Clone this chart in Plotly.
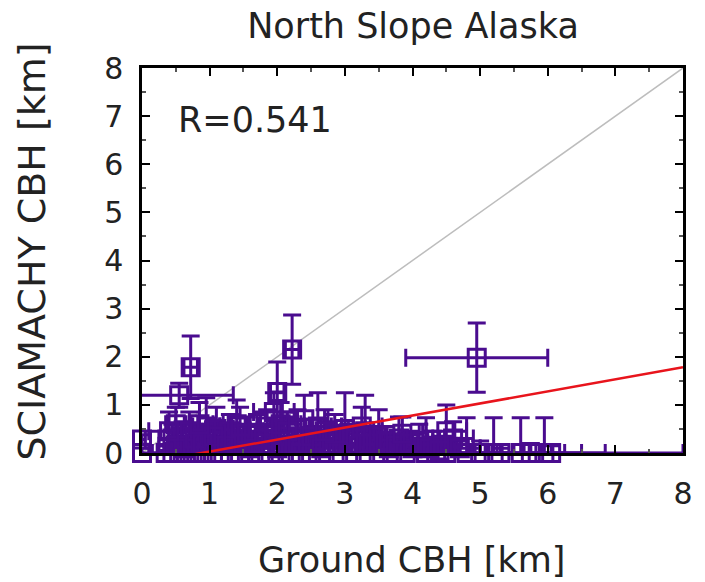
import plotly.graph_objects as go

# ---- data ----
ground_cbh = [0.0, 0.0, 0.55, 0.72, 2.22, 2.0, 4.95, 4.5,
              0.5, 0.6, 0.95, 1.1, 1.3, 1.5, 1.7, 1.85, 2.1, 2.3, 2.6, 2.75,
              3.0, 3.3, 3.5, 3.8, 4.1, 4.3, 1.0, 0.8, 1.6, 2.45, 2.9, 3.2, 3.65, 4.0,
              0.35, 0.45, 0.55, 0.65, 0.75, 0.85, 0.95, 1.05, 1.15, 1.3, 1.45, 1.6,
              1.75, 1.9, 2.05, 2.2, 2.35, 2.5, 2.7, 2.9, 3.1, 3.3, 3.5, 3.7, 3.9,
              4.2, 4.35, 4.5, 4.8, 5.0, 5.2, 5.3, 5.6, 5.75, 5.95, 6.05,
              0.45, 0.7, 1.2, 1.4, 1.95, 2.4, 2.55, 3.05, 3.4, 4.6,
              0.5, 0.62, 0.78, 0.9, 1.05, 1.25, 1.35, 1.55, 1.65, 1.8, 2.0, 2.15,
              2.3, 2.5, 2.65, 2.85, 3.15, 3.35, 3.6, 3.75, 3.95, 4.25, 4.45, 4.7,
              0.4, 0.85, 1.45, 2.05, 2.7, 3.25, 3.85, 4.4]
sciamachy_cbh = [0.28, 0.0, 1.2, 1.78, 2.15, 1.27, 1.98, 0.45,
                 0.6, 0.35, 0.55, 0.5, 0.45, 0.25, 0.4, 0.55, 0.35, 0.5, 0.55, 0.3,
                 0.5, 0.45, 0.35, 0.3, 0.25, 0.15, 0.15, 0.2, 0.1, 0.15, 0.2, 0.15, 0.1, 0.1,
                 0.0, 0.0, 0.0, 0.0, 0.0, 0.0, 0.0, 0.0, 0.0, 0.0, 0.0, 0.0,
                 0.0, 0.0, 0.0, 0.0, 0.0, 0.0, 0.0, 0.0, 0.0, 0.0, 0.0, 0.0, 0.0,
                 0.0, 0.0, 0.0, 0.0, 0.0, 0.0, 0.0, 0.0, 0.0, 0.0, 0.0,
                 0.3, 0.45, 0.25, 0.6, 0.85, 0.7, 0.25, 0.3, 0.2, 0.3,
                 0.15, 0.1, 0.3, 0.2, 0.35, 0.15, 0.3, 0.4, 0.2, 0.3, 0.1, 0.45,
                 0.2, 0.35, 0.1, 0.4, 0.3, 0.2, 0.25, 0.15, 0.2, 0.1, 0.15, 0.1,
                 0.45, 0.6, 0.55, 0.6, 0.45, 0.55, 0.4, 0.05]
ground_err = [0.05, 0.1, 0.8, 0.1, 0.1, 0.1, 1.05, 0.3,
              0.15, 0.2, 0.2, 0.25, 0.3, 0.2, 0.3, 0.25, 0.3, 0.35, 0.2, 0.3,
              0.3, 0.25, 0.3, 0.4, 0.3, 0.35, 0.3, 0.3, 0.4, 0.4, 0.3, 0.3, 0.4, 0.3,
              0.2, 0.3, 0.2, 0.3, 0.25, 0.3, 0.3, 0.35, 0.3, 0.4, 0.3, 0.3,
              0.35, 0.3, 0.4, 0.3, 0.3, 0.4, 0.3, 0.3, 0.4, 0.3, 0.35, 0.3, 0.4,
              0.3, 0.3, 0.35, 0.3, 0.3, 0.3, 2.7, 0.3, 0.75, 0.3, 0.8,
              0.2, 0.3, 0.3, 0.35, 0.3, 0.35, 0.3, 0.3, 0.35, 0.3,
              0.25, 0.2, 0.3, 0.25, 0.3, 0.35, 0.25, 0.3, 0.3, 0.25, 0.3, 0.35,
              0.3, 0.25, 0.3, 0.35, 0.3, 0.25, 0.3, 0.3, 0.35, 0.3, 0.25, 0.3,
              0.3, 0.35, 0.3, 0.3, 0.35, 0.3, 0.3, 0.25]
sciamachy_err = [0.1, 0.1, 0.25, 0.65, 0.72, 0.62, 0.72, 0.55,
                 0.35, 0.3, 0.6, 0.45, 0.35, 0.3, 0.4, 0.35, 0.4, 0.4, 0.7, 0.35,
                 0.75, 0.75, 0.55, 0.45, 0.35, 0.3, 0.3, 0.3, 0.25, 0.3, 0.35, 0.3, 0.25, 0.3,
                 0.15, 0.2, 0.3, 0.2, 0.25, 0.3, 0.2, 0.3, 0.25, 0.2, 0.3, 0.25,
                 0.3, 0.2, 0.3, 0.25, 0.3, 0.2, 0.3, 0.25, 0.3, 0.2, 0.3, 0.25, 0.3,
                 0.73, 0.3, 0.2, 0.73, 0.25, 0.73, 0.1, 0.73, 0.2, 0.73, 0.15,
                 0.3, 0.4, 0.3, 0.5, 0.4, 0.5, 0.3, 0.3, 0.3, 0.35,
                 0.2, 0.15, 0.3, 0.25, 0.3, 0.2, 0.3, 0.35, 0.25, 0.3, 0.15, 0.4,
                 0.25, 0.35, 0.2, 0.4, 0.3, 0.25, 0.3, 0.2, 0.25, 0.2, 0.2, 0.15,
                 0.4, 0.45, 0.4, 0.45, 0.45, 0.4, 0.35, 0.1]

fit_slope = 0.25
fit_intercept = -0.22
one_to_one = [0, 8]
fit_x = [0, 8]
r_value = 0.541

purple = "#4a0c8f"
font_family = "DejaVu Sans, Verdana, sans-serif"
text_color = "#222222"

fig = go.Figure()

fig.add_trace(go.Scatter(
    x=one_to_one, y=one_to_one, mode="lines",
    line=dict(color="#bdbdbd", width=1.5), showlegend=False, hoverinfo="skip"))

fig.add_trace(go.Scatter(
    x=ground_cbh, y=sciamachy_cbh, mode="markers",
    marker=dict(symbol="square-open", size=17, color=purple, line=dict(width=3)),
    error_x=dict(type="data", array=ground_err, color=purple, thickness=3, width=9),
    error_y=dict(type="data", array=sciamachy_err, color=purple, thickness=3, width=9),
    cliponaxis=False, showlegend=False))

fig.add_trace(go.Scatter(
    x=fit_x, y=[fit_slope * v + fit_intercept for v in fit_x], mode="lines",
    line=dict(color="#e8141c", width=2.5), showlegend=False))

axis_common = dict(
    range=[0, 8], dtick=1, tick0=0, showgrid=False, zeroline=False,
    showline=True, linecolor="black", linewidth=2.5, mirror="allticks",
    ticks="inside", ticklen=8, tickwidth=2, tickcolor="black",
    minor=dict(dtick=0.5, ticks="inside", ticklen=4, tickwidth=1.5, tickcolor="#555555"),
    tickfont=dict(family=font_family, size=30, color=text_color),
)

fig.update_layout(
    width=705, height=582,
    margin=dict(l=142, r=19, t=68, b=129),
    paper_bgcolor="white", plot_bgcolor="white",
    title=dict(text="North Slope Alaska", x=413 / 705, xanchor="center",
               y=1 - 26 / 582, yanchor="middle",
               font=dict(family=font_family, size=35, color=text_color)),
    xaxis=dict(**axis_common, ticklabelstandoff=12),
    yaxis=dict(**axis_common, ticklabelstandoff=10),
    annotations=[
        dict(text="Ground CBH [km]", xref="paper", yref="paper",
             x=(413 - 142) / 544, y=(453 - 560) / 385, xanchor="center", yanchor="middle",
             showarrow=False, font=dict(family=font_family, size=35, color=text_color)),
        dict(text="SCIAMACHY CBH [km]", xref="paper", yref="paper", textangle=-90,
             x=(31 - 142) / 544, y=(453 - 252) / 385, xanchor="center", yanchor="middle",
             showarrow=False, font=dict(family=font_family, size=38, color=text_color)),
        dict(text=f"R={r_value}", xref="paper", yref="paper",
             x=(176 - 142) / 544, y=(453 - 120) / 385, xanchor="left", yanchor="middle",
             showarrow=False, font=dict(family=font_family, size=35, color=text_color)),
    ],
)

fig.write_html("out.html")
